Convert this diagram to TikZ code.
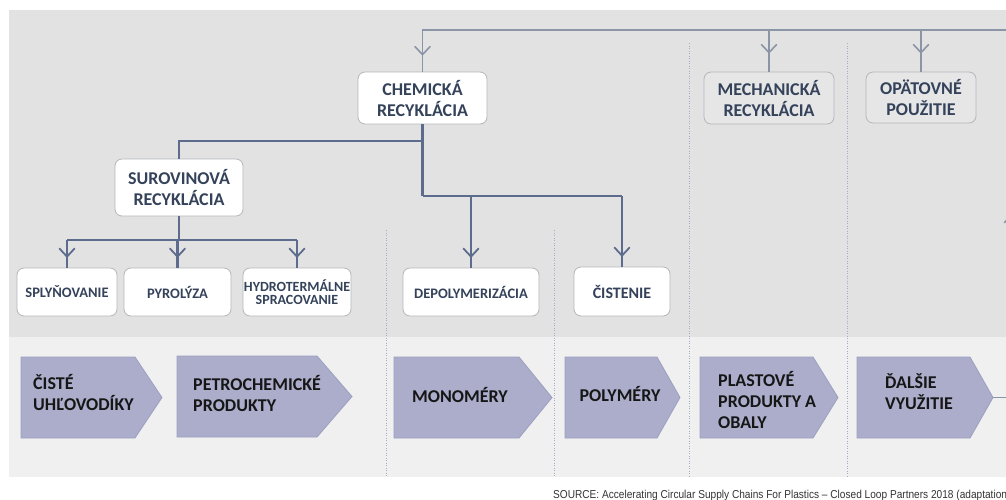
\documentclass[tikz,border=0pt]{standalone}
\usepackage{fontspec}
\setmainfont{Carlito}
\newfontfamily\srcfont{Liberation Sans}
\usetikzlibrary{decorations.markings}
\definecolor{bgtop}{HTML}{E2E2E2}
\definecolor{bgbot}{HTML}{F0F0F0}
\definecolor{boxline}{HTML}{B4B6BA}
\definecolor{boxtext}{HTML}{34425A}
\definecolor{gboxfill}{HTML}{E6E6E7}
\definecolor{pentfill}{HTML}{ABADCB}
\definecolor{pentline}{HTML}{9C9FC0}
\definecolor{ptxt}{HTML}{161616}
\definecolor{treecol}{HTML}{5D6C8D}
\definecolor{topcol}{HTML}{8C95A6}
\definecolor{dotcol}{HTML}{A6ACC4}
\definecolor{srccol}{HTML}{333333}
\newcommand\mypent[5]{\draw[pent] (#1,#4) -- (#2,#4) -- (#3,{(#4+#5)/2}) -- (#2,#5) -- (#1,#5) -- cycle;}
\begin{document}
\begin{tikzpicture}[x=1pt,y=-1pt,
  box/.style={draw=boxline, line width=0.8pt, fill=white, rounded corners=7pt, align=center, inner sep=0pt, text=boxtext, font=\bfseries\fontsize{18}{21}\selectfont},
  sbox/.style={box, font=\bfseries\fontsize{14.5}{14}\selectfont},
  gbox/.style={box, fill=gboxfill},
  ptext/.style={anchor=west, align=left, inner sep=0pt, text=ptxt, font=\bfseries\fontsize{18}{21}\selectfont},
  pent/.style={fill=pentfill, draw=pentline, line width=0.8pt},
  tree/.style={draw=treecol, line width=2.2pt},
  topl/.style={draw=topcol, line width=1.8pt},
  dotl/.style={draw=dotcol, line width=0.8pt, dash pattern=on 1pt off 1.5pt},
  tchev/.style={postaction={decorate, decoration={markings, mark=at position #1 with {\draw[draw=treecol, line width=1.8pt, line cap=round, line join=round] (-8pt,7.5pt) -- (0pt,0pt) -- (-8pt,-7.5pt);}}}},
  gchev/.style={postaction={decorate, decoration={markings, mark=at position #1 with {\draw[draw=topcol, line width=1.6pt, line cap=round, line join=round] (-8pt,7.5pt) -- (0pt,0pt) -- (-8pt,-7.5pt);}}}}
]
\useasboundingbox (0,0) rectangle (1006,499);
\clip (0,0) rectangle (1006,499);
% backgrounds
\fill[bgtop] (9,10) rectangle (1006,337);
\fill[bgbot] (9,337) rectangle (1006,477);
% dotted separators
\draw[dotl] (386,230) -- (386,477);
\draw[dotl] (554,230) -- (554,477);
\draw[dotl] (689,43) -- (689,477);
\draw[dotl] (847,43) -- (847,477);
% boxes
\node[box, minimum width=129pt, minimum height=52pt] (chem) at (422.5,98) {CHEMICKÁ\\RECYKLÁCIA};
\node[box, minimum width=128pt, minimum height=57pt] (surov) at (179,187.5) {SUROVINOVÁ\\RECYKLÁCIA};
\node[gbox, minimum width=130pt, minimum height=52pt] (mech) at (769,98) {MECHANICKÁ\\RECYKLÁCIA};
\node[gbox, minimum width=110pt, minimum height=51pt] (opat) at (921,97.5) {OPÄTOVNÉ\\POUŽITIE};
\node[sbox, minimum width=100pt, minimum height=48pt] (sply) at (67,292) {SPLYŇOVANIE};
\node[sbox, minimum width=107pt, minimum height=48pt] (pyro) at (177.5,292) {PYROLÝZA};
\node[sbox, minimum width=108pt, minimum height=48pt, font=\bfseries\fontsize{14}{13.5}\selectfont] (hydro) at (297,292) {HYDROTERMÁLNE\\SPRACOVANIE};
\node[sbox, minimum width=136pt, minimum height=48pt] (depoly) at (471,292) {DEPOLYMERIZÁCIA};
\node[sbox, minimum width=96pt, minimum height=49pt, font=\bfseries\fontsize{16}{16}\selectfont] (cist) at (622,291.5) {ČISTENIE};
% pentagons
\mypent{21}{135}{162}{357}{438}
\mypent{177}{317}{352}{356}{437}
\mypent{394}{519}{552}{357}{438}
\mypent{565}{657}{680}{357}{438}
\mypent{700}{813}{838}{357}{438}
\mypent{857}{970}{993}{357}{438}
\node[ptext] (p1) at (33,392) {ČISTÉ\\UHĽOVODÍKY};
\node[ptext] (p2) at (193,393.5) {PETROCHEMICKÉ\\PRODUKTY};
\node[ptext, anchor=center] (p3) at (460,395) {MONOMÉRY};
\node[ptext, anchor=center] (p4) at (620,394) {POLYMÉRY};
\node[ptext] (p5) at (718,399.5) {PLASTOVÉ\\PRODUKTY A\\OBALY};
\node[ptext] (p6) at (885,392) {ĎALŠIE\\VYUŽITIE};
\coordinate (dtip) at (993,397.5);
% connector coordinates
\coordinate (loopR) at (1012,397.5);
\coordinate (loopT) at (1012,30);
\coordinate (topL) at (422.5,30);
\coordinate (j1) at (422.5,141);
\coordinate (j1l) at (179,141);
\coordinate (j3) at (422.5,196);
\coordinate (j3r) at (622,196);
\coordinate (j2l) at (67,240);
\coordinate (j2r) at (297,240);
% top loop
\draw[topl, gchev=-17pt, gchev=202pt] (dtip) -- (loopR) -- (loopT) -- (topL) -- (chem.north);
\draw[topl, gchev=-19pt] (mech.north |- loopT) -- (mech.north);
\draw[topl, gchev=-19pt] (opat.north |- loopT) -- (opat.north);
% chemical tree
\draw[tree] (chem.south) -- (j3);
\draw[tree] (j1) -- (j1l) -- (surov.north);
\draw[tree] (j3) -- (j3r);
\draw[tree, tchev=-11pt] (j3r) -- (cist.north);
\draw[tree, tchev=-11pt] (depoly.north |- j3) -- (depoly.north);
\draw[tree] (surov.south) -- (surov.south |- j2l);
\draw[tree] (j2l) -- (j2r);
\draw[tree, tchev=-11pt] (j2l) -- (sply.north);
\draw[tree, tchev=-11pt] (pyro.north |- j2l) -- (pyro.north);
\draw[tree, tchev=-11pt] (j2r) -- (hydro.north);
% source
\node[anchor=base west, inner sep=0pt, text=srccol, font=\srcfont\fontsize{11.5}{12}\selectfont, xscale=0.88] (src) at (553,498) {SOURCE: Accelerating Circular Supply Chains For Plastics – Closed Loop Partners 2018 (adaptation)};
\end{tikzpicture}
\end{document}
